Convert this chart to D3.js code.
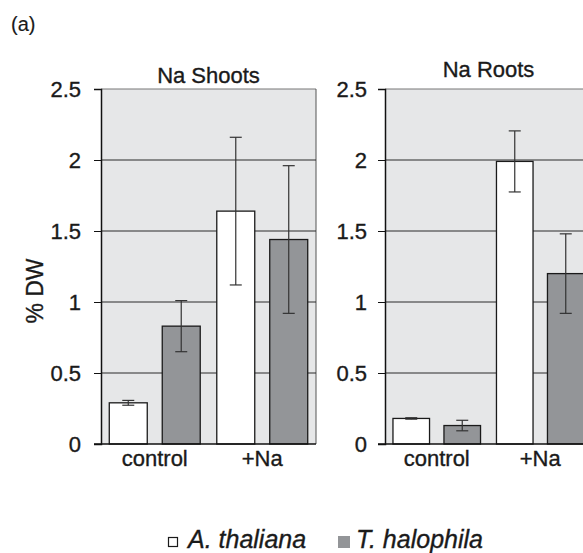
<!DOCTYPE html>
<html>
<head>
<meta charset="utf-8">
<script src="https://cdn.jsdelivr.net/npm/d3@7"></script>
<style>
  body { margin: 0; background: #fff; }
  text { font-family: "Liberation Sans", Arial, sans-serif; fill: #1a1a1a; stroke: #1a1a1a; stroke-width: 0.35px; }
</style>
</head>
<body>
<svg id="chart"></svg>
<script>
// Data
const conditions = ['control', '+Na'];
const species = ['A. thaliana', 'T. halophila'];
const shootsThaliana = [0.29, 1.64];
const shootsThalianaErr = [0.017, 0.52];
const shootsHalophila = [0.83, 1.44];
const shootsHalophilaErr = [0.18, 0.52];
const rootsThaliana = [0.18, 1.99];
const rootsThalianaErr = [0.005, 0.215];
const rootsHalophila = [0.13, 1.20];
const rootsHalophilaErr = [0.037, 0.28];
const yTicks = [0, 0.5, 1, 1.5, 2, 2.5];

const colors = {'A. thaliana': '#ffffff', 'T. halophila': '#939598'};

const W = 583, H = 553;
const svg = d3.select('#chart').attr('width', W).attr('height', H);

const y = d3.scaleLinear().domain([0, 2.5]).range([444, 89]);

// Label (a)
svg.append('text')
    .attr('x', 11)
    .attr('y', 31)
    .style('font-size', '20px')
    .style('stroke-width', '0.15px')
    .text('(a)');

// Y axis title
svg.append('text')
    .attr('transform', 'translate(43,291) rotate(-90)')
    .attr('text-anchor', 'middle')
    .style('font-size', '23px')
    .text('% DW');

function drawPanel(title, titleY, x0, x1, labelPad, thal, thalErr, halo, haloErr) {
    const g = svg.append('g');

    const xGroup = d3.scaleBand()
        .domain(conditions)
        .range([x0, x1])
        .paddingInner(0.154)
        .paddingOuter(0.077);

    const xInner = d3.scaleBand()
        .domain(species)
        .range([0, xGroup.bandwidth()])
        .paddingInner(0.283);

    // Panel background
    g.append('rect')
        .attr('x', x0)
        .attr('y', y(2.5))
        .attr('width', x1 - x0)
        .attr('height', y(0) - y(2.5))
        .attr('fill', '#e6e7e8');

    // Top border and right border
    g.append('line')
        .attr('x1', x0).attr('x2', x1)
        .attr('y1', y(2.5)).attr('y2', y(2.5))
        .attr('stroke', '#777').attr('stroke-width', 1);
    g.append('line')
        .attr('x1', x1).attr('x2', x1)
        .attr('y1', y(2.5)).attr('y2', y(0))
        .attr('stroke', '#555').attr('stroke-width', 1);

    // Gridlines
    g.selectAll('.grid')
        .data(yTicks.filter(d => d > 0 && d < 2.5))
        .enter()
        .append('line')
        .attr('x1', x0).attr('x2', x1)
        .attr('y1', d => y(d)).attr('y2', d => y(d))
        .attr('stroke', '#2a2a2a').attr('stroke-width', 1);

    // Bars
    const rows = [];
    conditions.forEach((c, i) => {
        rows.push({cond: c, sp: species[0], v: thal[i], e: thalErr[i]});
        rows.push({cond: c, sp: species[1], v: halo[i], e: haloErr[i]});
    });

    g.selectAll('.bar')
        .data(rows)
        .enter()
        .append('rect')
        .attr('x', d => xGroup(d.cond) + xInner(d.sp))
        .attr('y', d => y(d.v))
        .attr('width', xInner.bandwidth())
        .attr('height', d => y(0) - y(d.v))
        .attr('fill', d => colors[d.sp])
        .attr('stroke', '#1a1a1a')
        .attr('stroke-width', 1.3);

    // Error bars
    const cx = d => xGroup(d.cond) + xInner(d.sp) + xInner.bandwidth() / 2;
    const eb = g.selectAll('.err').data(rows).enter().append('g')
        .attr('stroke', '#333').attr('stroke-width', 1.2);
    eb.append('line')
        .attr('x1', cx).attr('x2', cx)
        .attr('y1', d => y(d.v + d.e)).attr('y2', d => y(d.v - d.e));
    eb.append('line')
        .attr('x1', d => cx(d) - 6).attr('x2', d => cx(d) + 6)
        .attr('y1', d => y(d.v + d.e)).attr('y2', d => y(d.v + d.e));
    eb.append('line')
        .attr('x1', d => cx(d) - 6).attr('x2', d => cx(d) + 6)
        .attr('y1', d => y(d.v - d.e)).attr('y2', d => y(d.v - d.e));

    // Y axis
    const yAxis = g.append('g')
        .attr('transform', `translate(${x0},0)`)
        .call(d3.axisLeft(y).tickValues(yTicks).tickSize(7).tickPadding(labelPad)
            .tickFormat(d3.format('~g')));
    yAxis.select('.domain').attr('stroke', '#111').attr('stroke-width', 1.5);
    yAxis.selectAll('.tick line').attr('stroke', '#111');
    yAxis.selectAll('.tick text')
        .attr('font-size', null)
        .attr('font-family', null)
        .style('font-size', '22px')
        .attr('fill', '#1a1a1a');

    // Baseline
    g.append('line')
        .attr('x1', x0 - 7).attr('x2', x1)
        .attr('y1', y(0)).attr('y2', y(0))
        .attr('stroke', '#111').attr('stroke-width', 1.5);

    // X labels
    g.selectAll('.xlab')
        .data(conditions)
        .enter()
        .append('text')
        .attr('x', d => xGroup(d) + xGroup.bandwidth() / 2)
        .attr('y', 466)
        .attr('text-anchor', 'middle')
        .style('font-size', '22px')
        .text(d => d);

    // Title
    g.append('text')
        .attr('x', (x0 + x1) / 2)
        .attr('y', titleY)
        .attr('text-anchor', 'middle')
        .style('font-size', '22px')
        .text(title);
}

drawPanel('Na Shoots', 83, 101, 316, 13, shootsThaliana, shootsThalianaErr, shootsHalophila, shootsHalophilaErr);
drawPanel('Na Roots', 77, 385, 592, 11, rootsThaliana, rootsThalianaErr, rootsHalophila, rootsHalophilaErr);

// Legend
const legend = svg.append('g');
legend.append('rect')
    .attr('x', 168.5).attr('y', 537.5)
    .attr('width', 9).attr('height', 9)
    .attr('fill', '#fff').attr('stroke', '#1a1a1a').attr('stroke-width', 1.2);
legend.append('text')
    .attr('x', 188).attr('y', 548)
    .style('font-size', '25px')
    .style('font-style', 'italic')
    .text(species[0]);
legend.append('rect')
    .attr('x', 338).attr('y', 536)
    .attr('width', 12).attr('height', 12)
    .attr('fill', colors[species[1]]);
legend.append('text')
    .attr('x', 356).attr('y', 548)
    .style('font-size', '25px')
    .style('font-style', 'italic')
    .text(species[1]);
</script>
</body>
</html>
